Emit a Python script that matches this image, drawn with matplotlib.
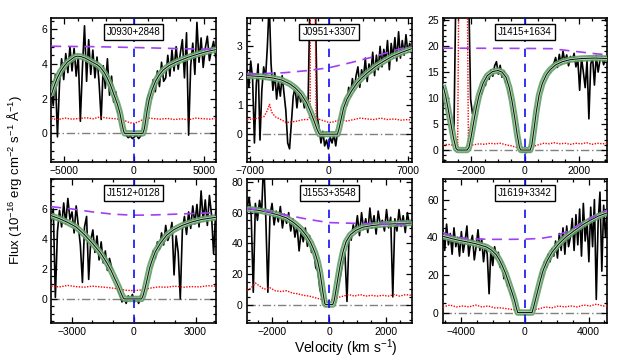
import numpy as np
import matplotlib
matplotlib.use("Agg")
import matplotlib.pyplot as plt
from matplotlib.ticker import MultipleLocator

plt.rcParams['font.family'] = ['Liberation Sans', 'DejaVu Sans']
plt.rcParams['mathtext.fontset'] = 'custom'
plt.rcParams['mathtext.rm'] = 'Liberation Sans'
plt.rcParams['mathtext.it'] = 'Liberation Sans'

# ---------------- data ----------------
names = ["J0930+2848", "J0951+3307", "J1415+1634", "J1512+0128", "J1553+3548", "J1619+3342"]
vranges = [(-5900, 5850), (-7300, 7350), (-3050, 3070), (-4000, 3975), (-2900, 2915), (-5150, 5180)]

# observed spectra (flux, evenly sampled across each velocity window)
flux_1 = [2.5, 1.6, 3.4, -0.2, 2.9, 4.3, 3.1, 4.6, 3.5, 5.0,
          3.6, 4.9, 3.3, 4.5, 0.7, 3.8, 6.2, 3.0, 5.4, 3.4,
          4.8, 3.2, 4.4, 2.9, 0.8, 3.9, 2.6, 4.3, 2.2, 3.3,
          1.8, 2.4, 1.2, 1.1, 0.3, 0.1, -0.1, -0.25, -0.15, -0.3,
          -0.2, -0.1, -0.3, -0.15, 0.2, 0.6, 1.9, 2.3, 2.0, 3.1,
          2.4, 3.6, 2.7, 4.1, 3.0, 3.2, 4.5, 3.3, 4.8, 3.6,
          5.0, 3.7, 4.6, 5.4, 3.2, 5.8, -0.1, 3.9, 5.2, 3.4,
          6.4, 4.1, 5.5, 3.8, 4.9, 5.6, 4.2, 4.8, 5.3, 4.4]
flux_2 = [2.2, 1.6, 2.5, 1.9, -0.3, 1.7, 2.4, -0.2, 1.5, 2.3,
          1.9, 3.0, 4.5, 2.4, 1.5, 2.1, 1.2, 1.8, 1.3, 2.0,
          1.4, 0.8, -0.3, -0.5, 0.4, 1.3, 1.6, 0.9, 1.5, 1.1,
          1.3, 0.9, 1.2, 0.9, 4.5, 4.5, 4.5, 4.5, 0.6, 0.2,
          -0.3, 0.1, -0.4, -0.2, -0.5, -0.1, -0.3, 0.0, -0.4, 0.1,
          0.2, 0.7, 0.5, 1.2, 1.0, 1.6, 1.3, 1.9, 1.5, 2.0,
          2.3, 1.6, 2.2, 1.9, 2.6, 1.8, 2.4, 2.1, 2.8, 2.0,
          2.7, 2.2, 3.0, 2.3, 2.9, 2.5, 3.2, 2.2, 3.1, 2.6,
          3.3, 2.5, 3.5, 2.6, 3.2, 2.7, 3.4, 2.8, 3.1, 2.9]
flux_3 = [12.8, 11.2, 9.5, 7.0, 5.8, 3.2, 3.8, 30, 30, 30,
          30, 30, 30, 30, 30, 9.8, 7.0, 8.2, 9.0, 10.2,
          11.5, 10.8, 13.2, 12.4, 14.5, 13.6, 15.4, 14.2, 16.2, 17.0,
          14.6, 16.3, 14.0, 15.2, 13.0, 12.9, 10.6, 9.8, 6.8, 5.6,
          3.2, 1.0, -0.2, -0.4, -0.3, -0.5, -0.2, -0.4, 0.6, 3.7,
          6.4, 9.2, 10.3, 12.3, 12.8, 14.1, 14.3, 15.3, 15.0, 16.0,
          16.6, 17.8, 15.9, 18.4, 16.5, 19.0, 17.0, 18.3, 16.2, 18.0,
          17.2, 18.6, 16.0, 17.5, 11.5, 17.8, 15.0, 12.0, 17.2, 6.0,
          16.5, 17.9, 12.5, 18.2, 15.0, 17.3, 18.0, 16.4, 17.6, 17.0]
flux_4 = [5.2, 6.0, 0.1, 4.5, 5.9, 4.8, 6.4, 5.0, 6.7, 5.3,
          5.8, 4.4, 6.2, 4.9, 3.6, 1.1, 4.8, 5.5, 1.3, 3.9,
          4.6, 3.1, 4.2, 2.6, 3.8, 2.4, 3.2, 1.9, 2.7, 2.1,
          1.4, 1.2, 0.6, 0.3, -0.2, 0.1, -0.3, 0.2, -0.1, 0.3,
          -0.2, 0.1, -0.3, 0.2, 0.0, 0.8, 1.0, 2.0, 2.1, 3.2,
          2.7, 3.8, 3.3, 4.4, 3.6, 4.9, 3.9, 4.3, 5.1, 1.6,
          4.2, 3.1, 0.0, 4.6, 5.5, 4.3, 5.8, 4.7, 6.2, 5.0,
          6.3, 4.8, 7.2, 5.2, 6.6, 4.9, 6.9, 5.6, 3.0, 5.8]
flux_5 = [63, 70, 58, 8, 66, 55, 68, 60, 95, 57,
          8, 58, 66, 52, 61, 54, 64, 50, 59, 53,
          60, 48, 56, 44, 52, 35, 48, 41, 50, 38,
          45, 34, 36, 24, 22, 10, 5, 0, -1, 1,
          -1, 0, 1, 6, 13, 20, 28, 34, 2, 45,
          42, 52, 47, 58, 45, 60, 49, 56, 47, 63,
          50, 58, 46, 61, 52, 55, 48, 62, 50, 57,
          5, 56, 48, 62, 51, 58, 47, 60, 52, 55]
flux_6 = [44, 33, 47, 36, 42, 31, 45, 35, 40, 30,
          43, 32, 38, 46, 30, 37, 41, 28, 35, 44,
          33, 39, 27, 36, 31, 10, 34, 25, 35, 29,
          32, 24, 27, 18, 22, 14, 15, 9, 10, 5,
          1.5, 0.3, -0.5, 0.5, -0.8, 0.2, -0.4, 0.6, -0.3, 2.5,
          6, 12, 14, 21, 19, 27, 24, 31, 27, 34,
          30, 38, 29, 42, 33, 45, 31, 46, 35, 40,
          50, 33, 52, 36, 55, 30, 58, 38, 49, 27,
          56, 35, 60, 7, 48, 64, 22, 57, 40, 55]

# best-fit models
model_v_1 = [-5900, -5700, -5480, -5250, -5000, -4750, -4500, -4250, -4050, -3800, -3500, -3200, -2900, -2600,
             -2380, -2100, -1900, -1670, -1450, -1190, -1000, -830, -720, -650,
             650, 750, 850, 950, 1100, 1300, 1550, 1800, 2100, 2500, 3000, 3500, 4000, 4500, 5000, 5500, 5900]
model_f_1 = [2.2, 2.7, 3.17, 3.55, 3.85, 4.1, 4.25, 4.4, 4.45, 4.43, 4.35, 4.22, 4.08, 3.95,
             3.8, 3.5, 3.2, 2.8, 2.3, 1.73, 1.2, 0.5, 0.1, 0.0,
             0.0, 0.25, 0.75, 1.3, 1.95, 2.5, 3.0, 3.35, 3.65, 3.9, 4.1, 4.27, 4.42, 4.55, 4.67, 4.77, 4.83]
model_v_2 = [-7300, -6000, -5000, -4200, -3500, -3000, -2500, -2000, -1600, -1300, -1050, -850,
             750, 900, 1100, 1300, 1600, 2000, 2500, 3000, 3500, 4200, 5000, 5700, 6500, 7350]
model_f_2 = [2.0, 1.97, 1.92, 1.85, 1.72, 1.58, 1.38, 1.08, 0.72, 0.42, 0.15, 0.0,
             0.0, 0.2, 0.55, 0.9, 1.2, 1.47, 1.75, 1.95, 2.12, 2.33, 2.52, 2.67, 2.8, 2.92]
model_v_3 = [-3050, -2950, -2850, -2750, -2650, -2560, -2500, -2150, -2080, -2000, -1900, -1800, -1700,
             -1550, -1400, -1200, -1000, -850, -700, -580, -480, -380, -280, -200, -150,
             200, 260, 340, 430, 530, 650, 800, 950, 1150, 1400, 1700, 2100, 2600, 3070]
model_f_3 = [12.5, 10.5, 7.8, 5.0, 2.2, 0.3, 0.0, 0.0, 0.5, 2.5, 5.5, 8.3, 10.6,
             12.9, 14.3, 15.1, 15.3, 15.0, 14.0, 12.0, 9.5, 6.3, 2.8, 0.5, 0.0,
             0.0, 1.0, 4.0, 7.5, 10.6, 12.8, 14.5, 15.5, 16.4, 17.0, 17.4, 17.6, 17.7, 17.6]
model_v_4 = [-4000, -3600, -3200, -2800, -2400, -2000, -1600, -1300, -1100, -900, -730, -600, -500, -450,
             380, 450, 550, 650, 780, 900, 1050, 1300, 1600, 1950, 2350, 2800, 3300, 3975]
model_f_4 = [5.55, 5.35, 5.1, 4.8, 4.3, 3.7, 3.05, 2.4, 1.9, 1.3, 0.8, 0.35, 0.05, 0.0,
             0.0, 0.2, 0.7, 1.3, 2.1, 2.6, 3.15, 3.72, 4.25, 4.62, 4.9, 5.12, 5.3, 5.44]
model_v_5 = [-2900, -2500, -2100, -1800, -1500, -1250, -1000, -800, -650, -500, -400, -320, -260, -200, -150, -120,
             130, 180, 250, 320, 400, 500, 600, 750, 950, 1200, 1500, 1900, 2400, 2915]
model_f_5 = [62.5, 61.5, 60.0, 58.5, 56.5, 53.5, 49.5, 45.0, 40.5, 34.0, 28.0, 21.0, 13.5, 6.0, 0.5, 0.0,
             0.0, 2.5, 10.0, 18.0, 26.5, 35.0, 41.0, 45.5, 48.5, 50.5, 51.5, 52.3, 52.8, 53.2]
model_v_6 = [-5150, -4600, -4100, -3600, -3100, -2700, -2400, -2100, -1800, -1600, -1400, -1200, -1000, -800,
             -650, -520, -450, 450, 550, 700, 850, 1000, 1150, 1400, 1700, 2100, 2600, 3100, 3600, 4100, 4600, 5180]
model_f_6 = [40.5, 39.3, 38.3, 37.5, 36.6, 35.6, 34.8, 33.2, 30.7, 28.0, 24.5, 20.5, 15.5, 10.5,
             6.5, 2.0, 0.0, 0.0, 3.0, 8.0, 13.0, 18.0, 22.5, 27.5, 32.0, 36.2, 40.3, 43.5, 46.5, 49.0, 51.2, 53.0]

# continua
cont_v_1 = [-5900, -3000, 0, 3000, 5900]
cont_f_1 = [5.02, 5.0, 4.95, 4.89, 4.84]
cont_v_2 = [-7300, -4000, -2000, 0, 2000, 4000, 6000, 7350]
cont_f_2 = [2.05, 2.1, 2.17, 2.27, 2.45, 2.65, 2.88, 3.02]
cont_v_3 = [-3050, 0, 1000, 1500, 2000, 2500, 3070]
cont_f_3 = [19.6, 19.55, 19.5, 19.2, 18.9, 18.6, 18.3]
cont_v_4 = [-4000, -3000, -2000, -1000, 0, 1000, 2000, 3000, 3975]
cont_f_4 = [6.15, 6.0, 5.8, 5.65, 5.58, 5.6, 5.65, 5.7, 5.75]
cont_v_5 = [-2900, -2400, -1900, -1400, -900, -400, 0, 500, 1000, 1500, 2000, 2915]
cont_f_5 = [62.8, 61.5, 59.8, 58.0, 56.2, 54.6, 53.5, 53.2, 53.0, 52.8, 52.5, 52.3]
cont_v_6 = [-5150, -4500, -3800, -3000, -2000, -1000, 0, 1000, 1800, 2500, 3200, 3900, 4600, 5180]
cont_f_6 = [42.5, 40.5, 39.5, 39.1, 38.9, 38.9, 39.0, 39.4, 40.5, 42.5, 45.5, 49.0, 52.0, 54.5]

# error spectra
err_v_1 = [-5900, -5400, -4900, -4400, -3900, -3400, -2900, -2400, -1900, -1400, -900, -600, -300, 0,
           300, 600, 900, 1400, 1900, 2400, 2900, 3400, 3900, 4400, 4900, 5400, 5900]
err_f_1 = [0.85, 0.8, 0.88, 0.82, 0.86, 0.9, 0.84, 0.95, 0.88, 0.85, 0.8, 0.72, 0.62, 0.58,
           0.65, 0.78, 0.9, 0.85, 0.82, 0.86, 0.8, 0.84, 0.78, 0.88, 0.85, 0.82, 0.86]
err_v_2 = [-7300, -6800, -6300, -5800, -5500, -5300, -5100, -4800, -4300, -3800, -3300, -2800, -2300, -1900,
           -1680, -1660, -1640, -1250, -1230, -1150, -800, -400, 0, 400, 1000, 1600, 2200, 2800, 3400, 4000,
           4600, 5200, 5800, 6400, 7000, 7350]
err_f_2 = [0.5, 0.52, 0.55, 0.6, 0.8, 1.02, 0.75, 0.6, 0.5, 0.4, 0.42, 0.45, 0.5, 0.5,
           0.6, 5.0, 5.0, 5.0, 5.0, 0.55, 0.5, 0.45, 0.4, 0.42, 0.5, 0.45, 0.5, 0.55, 0.52, 0.5,
           0.55, 0.5, 0.52, 0.48, 0.5, 0.48]
err_v_3 = [-3050, -2850, -2650, -2500, -2460, -2440, -2160, -2140, -2100, -1900, -1700, -1500, -1300, -1100,
           -900, -700, -500, -300, -100, 100, 300, 500, 700, 900, 1100, 1300, 1500, 1700, 1900, 2100,
           2300, 2500, 2700, 2900, 3070]
err_f_3 = [1.0, 1.1, 0.9, 1.0, 30, 30, 30, 30, 0.9, 1.0, 1.2, 1.1, 1.3, 1.2,
           1.3, 1.0, 0.8, 0.5, 0.35, 0.4, 0.7, 1.0, 1.3, 1.2, 1.4, 1.2, 1.3, 1.1, 1.3, 1.2,
           1.4, 1.1, 1.3, 1.2, 1.3]
err_v_4 = [-4000, -3600, -3200, -2800, -2400, -2000, -1600, -1200, -800, -400, 0,
           400, 800, 1200, 1600, 2000, 2400, 2800, 3200, 3600, 3975]
err_f_4 = [0.85, 0.8, 0.9, 0.82, 0.78, 0.85, 0.8, 0.75, 0.68, 0.58, 0.55,
           0.6, 0.72, 0.8, 0.78, 0.85, 0.78, 0.82, 0.8, 0.88, 0.85]
err_v_5 = [-2900, -2750, -2600, -2450, -2300, -2100, -1900, -1700, -1500, -1300, -1100, -900, -700, -500,
           -300, -100, 100, 300, 500, 700, 900, 1100, 1300, 1500, 1700, 1900, 2100, 2300, 2500, 2700, 2915]
err_f_5 = [9, 11, 14, 12, 10, 11, 9, 8.5, 9, 7.5, 7, 6, 5.5, 4.5,
           3.5, 2.5, 3, 4.5, 5.5, 6.5, 5.5, 6.5, 5.5, 6, 5.5, 6, 5.5, 6.5, 5.5, 6.5, 6]
err_v_6 = [-5150, -4700, -4300, -3900, -3500, -3100, -2700, -2300, -1900, -1500, -1100, -700, -300,
           100, 500, 900, 1300, 1700, 2100, 2500, 2900, 3300, 3700, 4100, 4500, 4900, 5180]
err_f_6 = [3, 4, 3, 3.5, 3, 4, 3, 3.5, 2.5, 2.5, 2, 1.5, 0.8,
           0.8, 1.5, 2, 3, 2.5, 3.5, 3, 3.5, 3, 4, 3.5, 4.5, 3.5, 3.5]

ylims = [(-1.65, 6.65), (-0.95, 3.97), (-2.3, 25.4), (-1.6, 8.0), (-12, 82), (-5.5, 71)]
yticks = [[0, 2, 4, 6], [0, 1, 2, 3], [0, 5, 10, 15, 20, 25], [0, 2, 4, 6], [0, 20, 40, 60, 80], [0, 20, 40, 60]]
xticks = [[-5000, 0, 5000], [-7000, 0, 7000], [-2000, 0, 2000], [-3000, 0, 3000], [-2000, 0, 2000], [-4000, 0, 4000]]
xminor = [1000, 1000, 500, 1000, 500, 1000]
yminor = [0.5, 0.2, 1, 0.5, 5, 5]

fluxes = [flux_1, flux_2, flux_3, flux_4, flux_5, flux_6]
models = [(model_v_1, model_f_1), (model_v_2, model_f_2), (model_v_3, model_f_3),
          (model_v_4, model_f_4), (model_v_5, model_f_5), (model_v_6, model_f_6)]
conts = [(cont_v_1, cont_f_1), (cont_v_2, cont_f_2), (cont_v_3, cont_f_3),
         (cont_v_4, cont_f_4), (cont_v_5, cont_f_5), (cont_v_6, cont_f_6)]
errs = [(err_v_1, err_f_1), (err_v_2, err_f_2), (err_v_3, err_f_3),
        (err_v_4, err_f_4), (err_v_5, err_f_5), (err_v_6, err_f_6)]

# ---------------- plot ----------------
fig = plt.figure(figsize=(6.4, 3.6), dpi=100)
lefts = [0.080, 0.386, 0.692]
bottoms = [0.550, 0.103]
W, H = 0.257, 0.400

for k in range(6):
    r, c = divmod(k, 3)
    ax = fig.add_axes([lefts[c], bottoms[r], W, H])
    x0, x1 = vranges[k]
    v = np.linspace(x0, x1, len(fluxes[k]))
    ax.axhline(0, color='#808080', lw=1.0, ls=(0, (6, 2, 1, 2)), zorder=1)
    ax.plot(v, fluxes[k], color='black', lw=1.2, zorder=2)
    ax.plot(errs[k][0], errs[k][1], color='red', lw=1.0, ls=(0, (1, 1)), zorder=3)
    mv, mf = models[k]
    ax.plot(mv, mf, color='#5f9f66', lw=4.6, alpha=0.9, solid_capstyle='butt', zorder=4)
    ax.plot(mv, mf, color='#cfe6cf', lw=1.8, zorder=5)
    ax.plot(mv, mf, color='#101a10', lw=0.8, zorder=6)
    cv, cf = conts[k]
    ax.plot(cv, cf, color='#a040f0', lw=1.2, ls=(0, (6, 4)), zorder=7)
    ax.axvline(0, color='#1010ee', lw=1.2, ls=(0, (5, 4)), zorder=8)
    ax.set_xlim(x0, x1)
    ax.set_ylim(*ylims[k])
    ax.set_xticks(xticks[k])
    ax.set_yticks(yticks[k])
    ax.xaxis.set_minor_locator(MultipleLocator(xminor[k]))
    ax.yaxis.set_minor_locator(MultipleLocator(yminor[k]))
    ax.tick_params(which='both', direction='in', top=True, right=True, labelsize=7.5, width=0.9, pad=3)
    ax.tick_params(which='major', length=4)
    ax.tick_params(which='minor', length=2)
    for s in ax.spines.values():
        s.set_linewidth(1.2)
    ax.text(0.5, 0.9, names[k], transform=ax.transAxes, ha='center', va='center', fontsize=7,
            zorder=10, bbox=dict(boxstyle='square,pad=0.3', fc='white', ec='black', lw=1.0))

fig.text(0.022, 0.5, 'Flux (10$^{-16}$ erg cm$^{-2}$ s$^{-1}$ Å$^{-1}$)', rotation=90,
         ha='center', va='center', fontsize=9.5)
fig.text(0.54, 0.034, 'Velocity (km s$^{-1}$)', ha='center', va='center', fontsize=10)

fig.savefig('out.png', dpi=100)
